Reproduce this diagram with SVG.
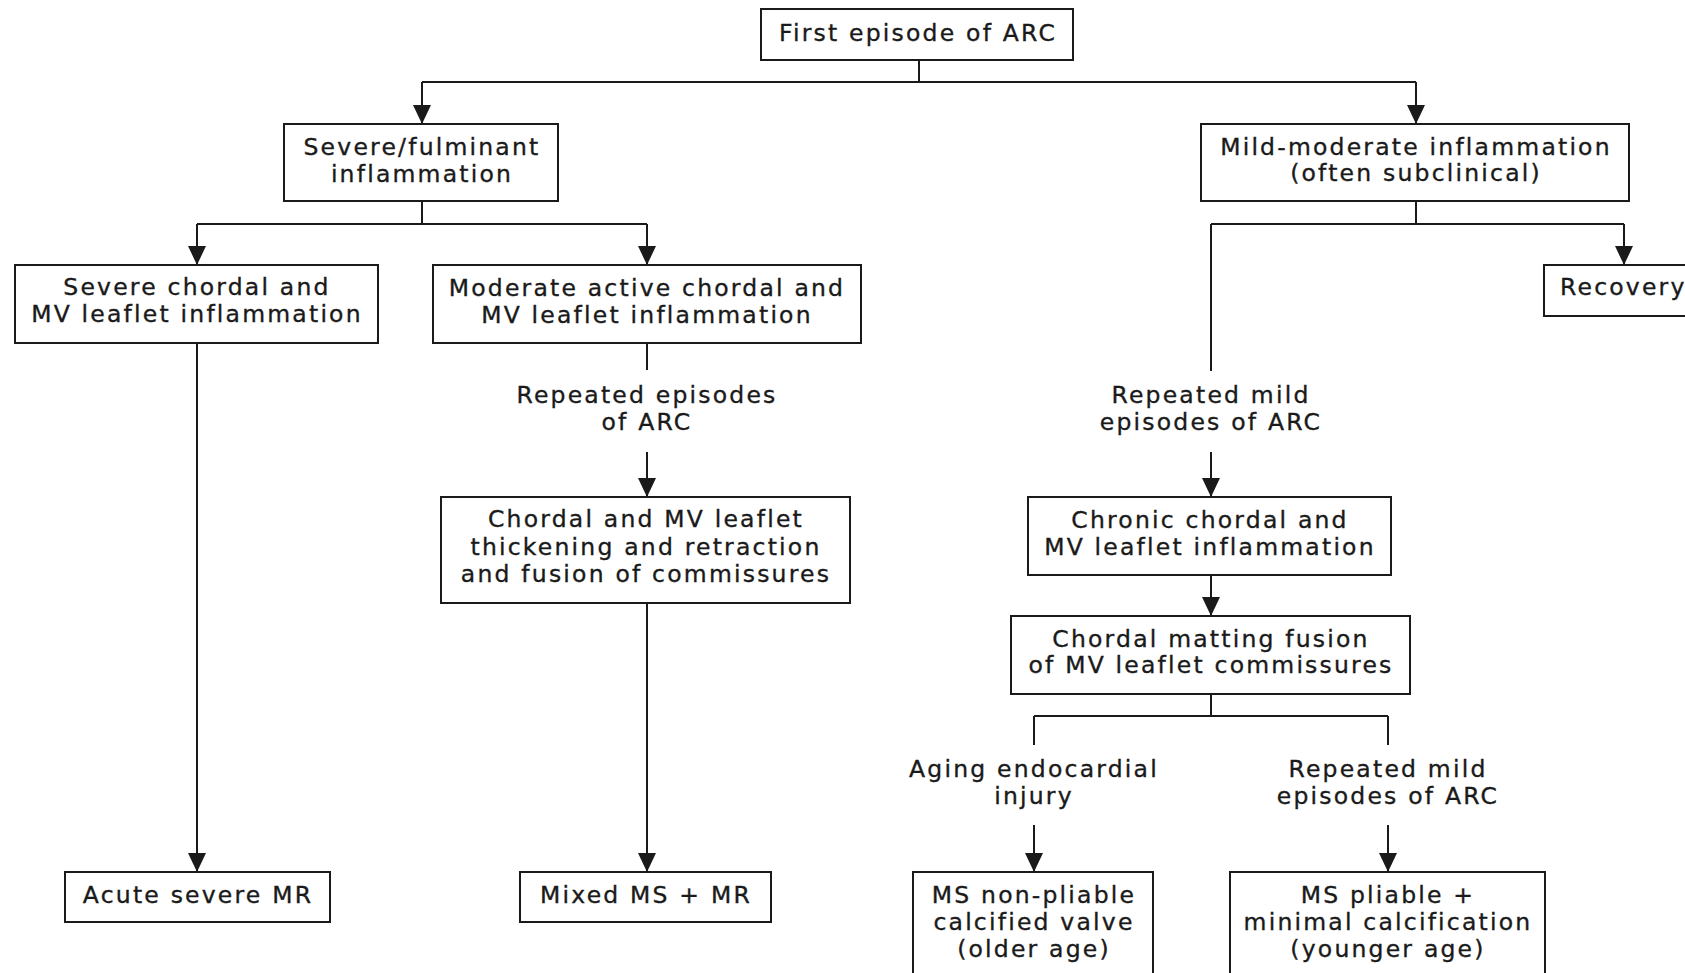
<svg xmlns="http://www.w3.org/2000/svg" width="1685" height="973" viewBox="0 0 1685 973">
<style>
.box{fill:#fff;stroke:#1a1a1a;stroke-width:2}
.t{font-family:"DejaVu Sans","Liberation Sans",sans-serif;font-size:23.5px;letter-spacing:2.2px;fill:#1a1a1a;stroke:#1a1a1a;stroke-width:0.35px;text-anchor:middle}
.c{fill:none;stroke:#1a1a1a;stroke-width:2}
.a{fill:none;stroke:#1a1a1a;stroke-width:2;marker-end:url(#arr)}
</style>
<defs>
<marker id="arr" markerUnits="userSpaceOnUse" markerWidth="19" markerHeight="18" viewBox="0 0 19 18" refX="19" refY="9" orient="auto">
<path d="M0,0 L19,9 L0,18 z" fill="#1a1a1a"/>
</marker>
</defs>
<rect width="1685" height="973" fill="#fff"/>
<g id="connectors">
<path class="c" d="M919,60 V82 M422,82 H1416"/>
<path class="a" d="M422,82 V124"/>
<path class="a" d="M1416,82 V124"/>
<path class="c" d="M422,201 V224 M197,224 H647"/>
<path class="a" d="M197,224 V265"/>
<path class="a" d="M647,224 V265"/>
<path class="c" d="M1416,201 V224 M1211,224 H1624 M1211,224 V371"/>
<path class="a" d="M1624,224 V265"/>
<path class="a" d="M197,343 V872"/>
<path class="c" d="M647,343 V370"/>
<path class="a" d="M647,452 V497"/>
<path class="a" d="M647,603 V872"/>
<path class="a" d="M1211,452 V497"/>
<path class="a" d="M1211,575 V616"/>
<path class="c" d="M1211,694 V716 M1034,716 H1388 M1034,716 V745 M1388,716 V745"/>
<path class="a" d="M1034,825 V872"/>
<path class="a" d="M1388,825 V872"/>
</g>
<g id="n_first"><rect class="box" x="761" y="9" width="312" height="51"/><text class="t" x="918" y="41">First episode of ARC</text></g>
<g id="n_severe_fulminant"><rect class="box" x="284" y="124" width="274" height="77"/><text class="t" x="422" y="155">Severe/fulminant</text><text class="t" x="422" y="182">inflammation</text></g>
<g id="n_mild_moderate"><rect class="box" x="1201" y="124" width="428" height="77"/><text class="t" x="1416" y="155">Mild-moderate inflammation</text><text class="t" x="1416" y="181">(often subclinical)</text></g>
<g id="n_severe_chordal"><rect class="box" x="15" y="265" width="363" height="78"/><text class="t" x="197" y="295">Severe chordal and</text><text class="t" x="197" y="322">MV leaflet inflammation</text></g>
<g id="n_moderate_active"><rect class="box" x="433" y="265" width="428" height="78"/><text class="t" x="647" y="296">Moderate active chordal and</text><text class="t" x="647" y="323">MV leaflet inflammation</text></g>
<g id="n_recovery"><rect class="box" x="1544" y="265" width="160" height="51"/><text class="t" x="1560" y="295" style="text-anchor:start">Recovery</text></g>
<g id="l_repeated1"><text class="t" x="647" y="403">Repeated episodes</text><text class="t" x="647" y="430">of ARC</text></g>
<g id="n_chordal_thick"><rect class="box" x="441" y="497" width="409" height="106"/><text class="t" x="646" y="527">Chordal and MV leaflet</text><text class="t" x="646" y="555">thickening and retraction</text><text class="t" x="646" y="582">and fusion of commissures</text></g>
<g id="n_acute"><rect class="box" x="65" y="872" width="265" height="50"/><text class="t" x="198" y="903">Acute severe MR</text></g>
<g id="n_mixed"><rect class="box" x="520" y="872" width="251" height="50"/><text class="t" x="646" y="903">Mixed MS + MR</text></g>
<g id="l_repeated_mild1"><text class="t" x="1211" y="403">Repeated mild</text><text class="t" x="1211" y="430">episodes of ARC</text></g>
<g id="n_chronic"><rect class="box" x="1028" y="497" width="363" height="78"/><text class="t" x="1210" y="528">Chronic chordal and</text><text class="t" x="1210" y="555">MV leaflet inflammation</text></g>
<g id="n_matting"><rect class="box" x="1011" y="616" width="399" height="78"/><text class="t" x="1211" y="647">Chordal matting fusion</text><text class="t" x="1211" y="673">of MV leaflet commissures</text></g>
<g id="l_aging"><text class="t" x="1034" y="777">Aging endocardial</text><text class="t" x="1034" y="804">injury</text></g>
<g id="l_repeated_mild2"><text class="t" x="1388" y="777">Repeated mild</text><text class="t" x="1388" y="804">episodes of ARC</text></g>
<g id="n_ms_nonpliable"><rect class="box" x="913" y="872" width="240" height="120"/><text class="t" x="1034" y="903">MS non-pliable</text><text class="t" x="1034" y="930">calcified valve</text><text class="t" x="1034" y="957">(older age)</text></g>
<g id="n_ms_pliable"><rect class="box" x="1230" y="872" width="315" height="120"/><text class="t" x="1388" y="903">MS pliable +</text><text class="t" x="1388" y="930">minimal calcification</text><text class="t" x="1388" y="957">(younger age)</text></g>
</svg>
